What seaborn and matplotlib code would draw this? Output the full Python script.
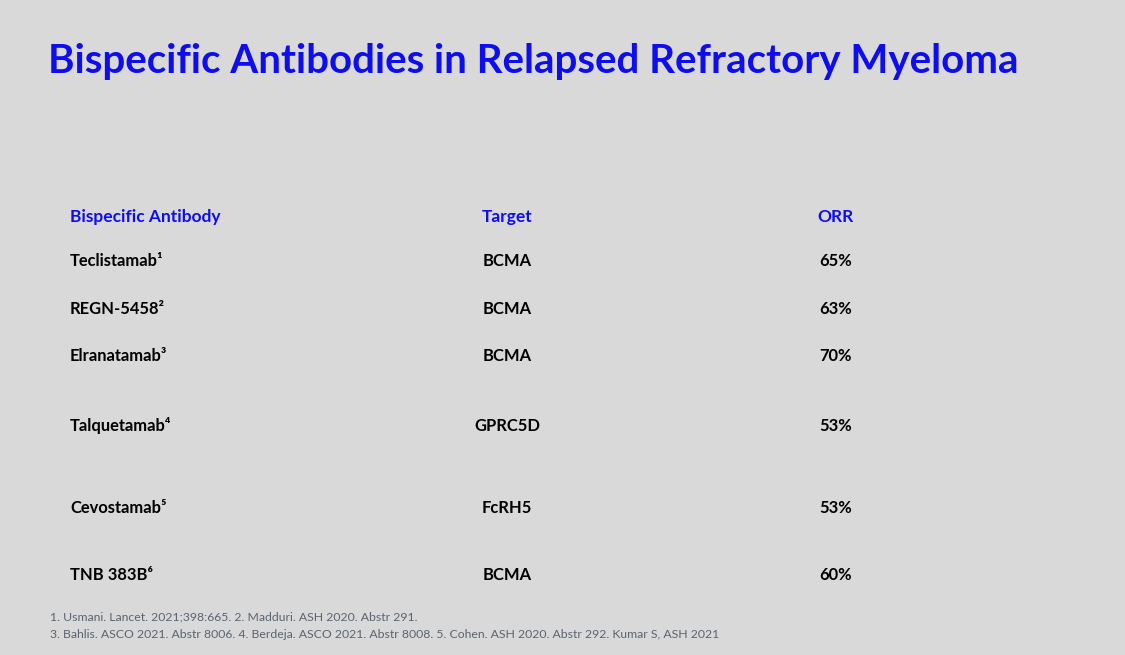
import matplotlib
matplotlib.use("Agg")
import matplotlib.pyplot as plt
import seaborn as sns

title = "Bispecific Antibodies in Relapsed Refractory Myeloma"
headers = ["Bispecific Antibody", "Target", "ORR"]
antibodies = ["Teclistamab¹", "REGN-5458²", "Elranatamab³", "Talquetamab⁴", "Cevostamab⁵", "TNB 383B⁶"]
targets = ["BCMA", "BCMA", "BCMA", "GPRC5D", "FcRH5", "BCMA"]
orr = [65, 63, 70, 53, 53, 60]
footnotes = ["1. Usmani. Lancet. 2021;398:665. 2. Madduri. ASH 2020. Abstr 291.",
             "3. Bahlis. ASCO 2021. Abstr 8006. 4. Berdeja. ASCO 2021. Abstr 8008. 5. Cohen. ASH 2020. Abstr 292. Kumar S, ASH 2021"]

row_y = [261, 309, 356, 426, 508, 575]

sns.set_theme(style="white")
plt.rcParams['font.family'] = ['Lato', 'DejaVu Sans']
bg = "#d9d9d9"
fig = plt.figure(figsize=(11.25, 6.55), dpi=100, facecolor=bg)
ax = fig.add_axes([0, 0, 1, 1])
ax.set_facecolor(bg)
ax.set_xlim(0, 1125)
ax.set_ylim(655, 0)
ax.axis("off")

blue = "#0d0df0"
ax.text(48, 61, title, color=blue, fontsize=29, fontweight="bold", va="center", ha="left")
ax.text(70, 217, headers[0], color=blue, fontsize=12.5, fontweight="bold", va="center", ha="left")
ax.text(507, 217, headers[1], color=blue, fontsize=12.5, fontweight="bold", va="center", ha="center")
ax.text(836, 217, headers[2], color=blue, fontsize=12.5, fontweight="bold", va="center", ha="center")
for y, a, t, o in zip(row_y, antibodies, targets, orr):
    ax.text(70, y, a, fontsize=11.9, fontweight="bold", color="black", va="center", ha="left")
    ax.text(507, y, t, fontsize=11.9, fontweight="bold", color="black", va="center", ha="center")
    ax.text(836, y, f"{o}%", fontsize=11.9, fontweight="bold", color="black", va="center", ha="center")
for i, f in enumerate(footnotes):
    ax.text(50, 617 + 18 * i, f, fontsize=8.8, color="#5a6470", va="center", ha="left")

fig.savefig("out.png", dpi=100, facecolor=bg)
